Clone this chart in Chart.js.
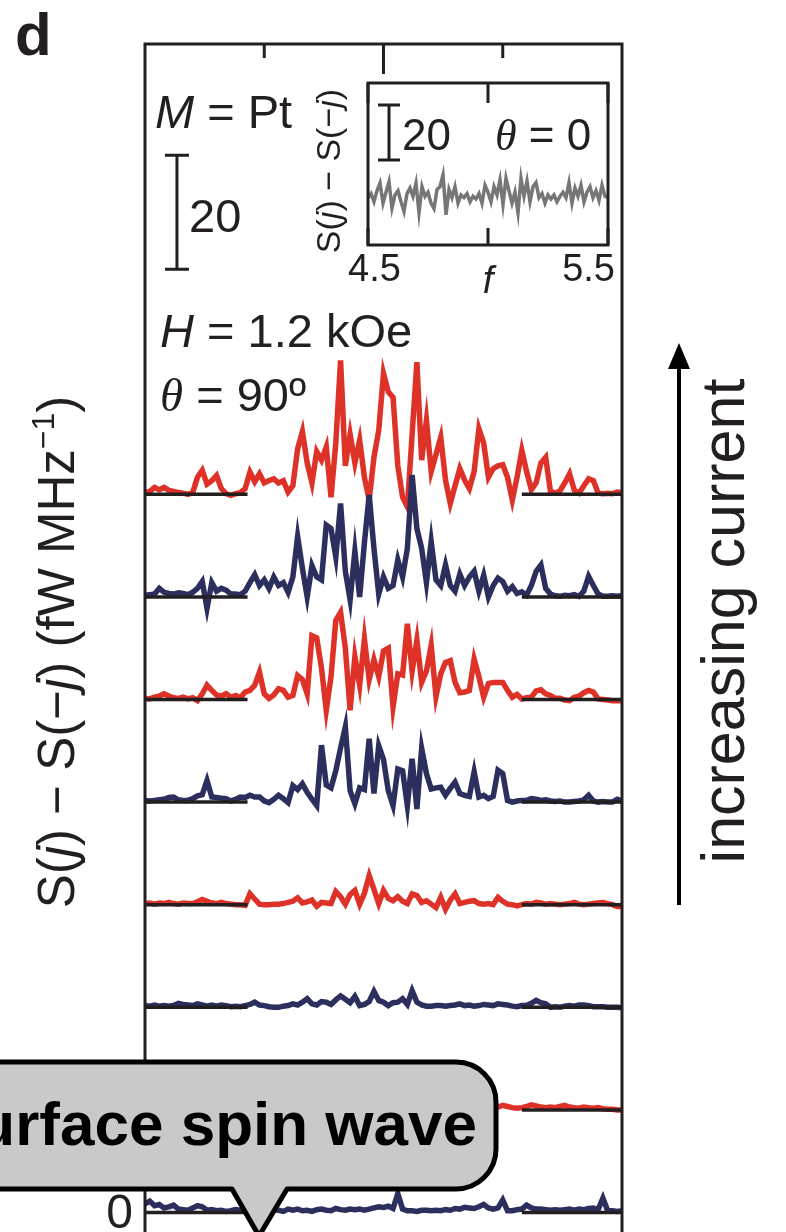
<!DOCTYPE html>
<html>
<head>
<meta charset="utf-8">
<script src="https://cdn.jsdelivr.net/npm/chart.js@4"></script>
<style>
  html, body { margin: 0; padding: 0; background: #fff; overflow: hidden; }
  #wrap { position: relative; width: 786px; height: 1232px; overflow: hidden; background: #fff; }
  #mainChart { position: absolute; left: 0; top: 0; }
  #insetChart { position: absolute; left: 300px; top: 60px; }
</style>
</head>
<body>
<div id="wrap">
  <canvas id="mainChart" width="786" height="1300"></canvas>
  <canvas id="insetChart" width="330" height="240"></canvas>
</div>
<script>
// frequency grid (GHz) for the main traces
const freq = [
  4.00, 4.02, 4.04, 4.06, 4.08, 4.10, 4.12, 4.14, 4.16, 4.18,
  4.20, 4.22, 4.24, 4.26, 4.28, 4.30, 4.32, 4.34, 4.36, 4.38,
  4.40, 4.42, 4.44, 4.46, 4.48, 4.50, 4.52, 4.54, 4.56, 4.58,
  4.60, 4.62, 4.64, 4.66, 4.68, 4.70, 4.72, 4.74, 4.76, 4.78,
  4.80, 4.82, 4.84, 4.86, 4.88, 4.90, 4.92, 4.94, 4.96, 4.98,
  5.00, 5.02, 5.04, 5.06, 5.08, 5.10, 5.12, 5.14, 5.16, 5.18,
  5.20, 5.22, 5.24, 5.26, 5.28, 5.30, 5.32, 5.34, 5.36, 5.38,
  5.40, 5.42, 5.44, 5.46, 5.48, 5.50, 5.52, 5.54, 5.56, 5.58,
  5.60, 5.62, 5.64, 5.66, 5.68, 5.70, 5.72, 5.74, 5.76, 5.78,
  5.80, 5.82, 5.84, 5.86, 5.88, 5.90, 5.92, 5.94, 5.96, 5.98,
  6.00
];

// S(j) - S(-j), top trace (highest current) first
const trace1 = [
  0.3, 0.5, 1.2, 0.8, 1.2, 0.7, 0.5, 0.3, 0.2, 0.0,
  0.3, 3.0, 4.2, 1.8, 2.4, 3.3, 1.0, 0.1, -0.2, 0.1,
  0.3, 1.0, 3.9, 2.2, 3.6, 2.0, 2.4, 2.7, 2.0, 2.4,
  0.4, 1.5, 8.0, 11.0, 5.5, 2.0, 7.5, 6.0, 8.3, -0.5,
  9.0, 23.5, 5.0, 10.5, 5.5, 9.5, 3.0, -1.0, 6.5, 11.2,
  21.2, 18.0, 17.0, 5.0, -0.5, -2.2, 10.5, 23.2, 6.0, 13.0,
  4.0, 7.0, 10.0, 2.5, -1.6, 1.5, 4.5, 2.5, 1.0, 4.0,
  11.5, 9.0, 3.0, 4.5, 5.0, 5.2, 3.0, -1.0, 3.0, 7.7,
  4.0, 0.8, 2.0, 5.5, 6.5, 0.5, 0.2, 0.6, 2.0, 3.6,
  0.7, 0.2, 1.5, 2.7, 2.4, 0.2, 0.1, 0.2, 0.1, 0.4,
  0.3
];
const trace2 = [
  0.3, 0.4, 0.5, 1.5, 0.8, 0.6, 0.5, 0.7, 0.6, 0.4,
  0.8, 1.5, 2.7, -2.0, 2.5, 1.0, 1.5, 1.2, 0.5, 0.5,
  0.4, 1.0, 2.5, 3.9, 2.0, 3.0, 1.5, 3.5, 2.0, 2.5,
  0.8, 3.5, 10.6, 5.0, 0.0, 5.5, 3.5, 3.0, 12.6, 12.0,
  7.0, 16.4, 4.5, -0.5, 8.0, 0.0, 9.5, 17.9, 8.5, 0.5,
  3.5, 1.5, 2.0, 6.5, 3.5, 8.5, 21.4, 12.0, 8.5, 2.5,
  9.7, 3.0, 2.0, 5.6, 2.0, 1.0, 4.0, 2.0, 3.5, 4.5,
  1.0, 3.8, 0.0, 2.0, 3.3, 2.7, 1.0, 1.8, 0.6, 0.9,
  0.3, 2.0, 4.5, 5.6, 1.5, 0.5, 0.2, 0.1, 0.3, 0.2,
  0.4, 0.1, 1.0, 3.6, 2.0, 0.5, 0.1, 0.1, 0.2, 0.1,
  0.2
];
const trace3 = [
  0.2, 0.1, 0.4, 0.6, 1.0, 0.6, 0.3, 0.2, 0.4, 0.1,
  0.3, -0.2, 1.0, 2.5, 1.6, 0.8, 0.6, 1.0, 0.4, 0.7,
  0.3, 1.3, 1.6, 2.5, 4.8, 1.0, 0.2, 0.8, 1.9, 1.6,
  0.4, 0.7, 4.2, 3.5, 1.0, 11.2, 10.8, 5.5, -1.9, 4.0,
  13.9, 15.3, 9.0, -1.9, 7.5, 2.5, 10.6, 3.5, 7.0, 4.0,
  8.5, 9.0, -1.3, 4.5, 4.3, 13.3, 5.0, 10.4, 3.0, 5.0,
  9.5, 0.5, 4.5, 6.5, 6.8, 3.0, 1.2, 1.3, 1.6, 7.1,
  4.0, 0.4, 2.8, 3.0, 3.0, 3.0, 1.6, 0.4, 0.9, 0.1,
  0.3, 0.4, 1.5, 1.7, 1.0, 0.7, 0.2, 0.2, -0.1, -0.2,
  0.4, 0.6, 1.2, 1.6, 1.3, 0.1, 0.0, -0.1, -0.2, -0.2,
  -0.2
];
const trace4 = [
  0.3, 0.2, 0.3, 0.4, 0.5, 0.8, 0.9, 0.4, 0.3, 0.3,
  0.6, 1.1, 1.3, 3.8, 0.9, 0.8, 0.7, 0.6, 0.2, 0.5,
  0.9, 0.8, 1.2, 0.9, 0.9, 0.2, -0.1, 0.5, 1.2, 0.6,
  -0.1, 2.9, 2.2, 3.2, 1.7, 0.5, -0.6, 10.0, 3.0, 2.5,
  5.5, 9.5, 13.2, 2.0, -0.3, 2.5, 2.2, 11.1, 1.5, 9.9,
  7.5, 2.0, -0.6, 5.8, 5.5, -0.6, 7.6, -1.2, 9.4, 5.0,
  2.3, 2.5, 2.6, 1.2, 2.4, 3.5, 1.5, 1.2, 1.0, 5.3,
  0.9, 1.2, 0.6, 1.0, 5.6, 5.0, 0.3, 0.0, 0.2, 0.3,
  0.3, 0.6, 0.5, 0.3, 0.4, 0.2, 0.1, 0.2, 0.0, 0.0,
  0.1, 0.2, 0.4, 1.2, 0.2, 0.0, 0.1, 0.0, 0.0, 0.5,
  0.2
];
const trace5 = [
  0.2, 0.3, 0.1, 0.3, 0.2, 0.4, 0.2, 0.1, 0.3, 0.2,
  0.2, 0.5, 0.9, 0.6, 0.3, 0.2, 0.4, 0.2, 0.1, 0.0,
  0.0, -0.1, 1.9, 1.0, 0.1, 0.0, 0.0, 0.1, 0.1, 0.2,
  0.4, 0.6, 1.2, 0.3, 0.5, 0.8, -0.3, 0.4, 0.3, 0.2,
  2.3, 1.4, 0.1, 1.8, 2.5, 0.1, 2.0, 5.1, 2.7, 0.2,
  2.5, 1.1, 0.7, 1.4, 0.6, 0.2, 1.9, 1.6, 0.4, 0.7,
  0.1, -0.5, 1.3, -0.8, 0.8, 1.9, 0.2, 0.4, 0.6, 0.7,
  0.2, 0.1, 0.2, 0.0, 1.3, 0.6, 0.1, 0.0, -0.2, 0.0,
  0.2, 0.1, 0.4, 0.3, 0.1, 0.2, 0.1, 0.0, 0.1, 0.2,
  0.4, 0.1, 0.0, 0.1, 0.2, 0.3, 0.4, 0.2, 0.0, -0.3,
  -0.3
];
const trace6 = [
  0.3, 0.2, 0.4, 0.2, 0.3, 0.2, 0.3, 0.7, 0.5, 0.4,
  0.3, 0.6, 0.4, 0.2, 0.4, 0.2, 0.4, 0.3, 0.1, 0.2,
  0.1, 0.3, 0.5, 0.9, 0.4, 0.3, 0.1, 0.0, 0.0, 0.2,
  0.3, 0.6, 0.4, 0.9, 1.5, 0.6, 0.4, 1.0, 0.9, 0.5,
  1.3, 2.0, 1.4, 0.8, 1.9, 0.3, 0.5, 1.0, 2.8, 1.2,
  0.9, 0.3, 0.8, 0.9, 1.5, 0.5, 2.9, 0.9, 0.4, 0.2,
  0.2, 0.3, 0.3, 0.2, 0.3, 0.4, 0.6, 0.3, 0.4, 0.2,
  0.3, 0.5, 0.4, 0.3, 0.6, 0.5, 0.4, 0.2, 0.1, 0.3,
  0.3, 0.7, 1.2, 0.8, 0.6, 0.0, 0.1, 0.0, 0.2, 0.3,
  0.2, 0.4, 0.4, 0.3, 0.1, 0.1, 0.1, 0.0, 0.0, 0.0,
  -0.1
];
const trace7 = [
  0.3, 0.2, 0.4, 0.3, 0.2, 0.3, 0.4, 0.2, 0.3, 0.2,
  0.3, 0.4, 0.3, 0.2, 0.3, 0.2, 0.4, 0.3, 0.2, 0.3,
  0.2, 0.4, 0.5, 0.3, 0.2, 0.3, 0.4, 0.3, 0.2, 0.3,
  0.4, 0.5, 0.3, 0.6, 0.4, 0.5, 0.3, 0.6, 0.4, 0.7,
  0.5, 0.8, 0.6, 0.5, 0.9, 0.4, 0.6, 1.0, 0.7, 0.5,
  0.6, 0.8, 0.5, 0.4, 0.6, 0.9, 0.5, 0.4, 0.3, 0.5,
  0.4, 0.3, 0.5, 0.4, 0.3, 0.4, 0.5, 0.3, 0.4, 0.3,
  0.4, 0.5, 0.4, 0.6, 0.5, 0.8, 0.6, 0.4, 0.3, 0.4,
  0.6, 0.9, 0.7, 0.5, 0.4, 0.5, 0.4, 0.6, 0.8, 0.5,
  0.4, 0.3, 0.5, 0.4, 0.3, 0.4, 0.2, 0.1, 0.1, 0.0,
  0.0
];
const trace8 = [
  1.5, 2.0, 1.2, 1.4, 0.8, 1.0, 1.3, 0.6, 0.5, 0.4,
  0.8, 1.2, 1.0, 0.4, 0.5, 0.3, 0.4, 0.2, 0.3, 0.5,
  0.4, 0.3, 0.2, 0.4, 0.3, 0.3, 0.2, 0.5, 0.4, 0.2,
  0.6, 0.4, 0.6, 0.3, 0.4, 0.2, 0.5, 0.6, 0.4, 0.3,
  0.7, 0.5, 0.4, 0.6, 0.5, 0.6, 0.4, 0.6, 0.8, 1.0,
  0.9, 1.1, 0.7, 3.3, 0.6, 0.3, 0.3, 0.2, 0.4, 0.4,
  0.3, 0.4, 0.3, 0.5, 0.4, 0.7, 0.6, 0.9, 0.8, 0.7,
  1.0, 1.4, 0.8, 0.6, 0.8, 2.2, 0.3, 0.3, 0.5, 0.6,
  1.3, 0.8, 0.6, 0.6, 0.5, 0.4, 0.5, 0.4, 0.5, 0.6,
  0.4, 0.6, 0.5, 0.7, 0.8, 0.5, 2.5, 0.3, 0.3, 0.2,
  0.3
];

// vertical offset of each trace (same units), top to bottom
const offsets = [126, 108, 90, 72, 54, 36, 18, 0];
// frequency windows where the zero reference is drawn
const refWindows = [[4.00, 4.43], [5.58, 6.00]];
const mainTicks = [4.5, 5.0, 5.5];
const scaleBarLength = 20;

// inset: theta = 0
const insetFreq = [
  4.5, 4.5125, 4.525, 4.5375, 4.55, 4.5625, 4.575, 4.5875, 4.6, 4.6125,
  4.625, 4.6375, 4.65, 4.6625, 4.675, 4.6875, 4.7, 4.7125, 4.725, 4.7375,
  4.75, 4.7625, 4.775, 4.7875, 4.8, 4.8125, 4.825, 4.8375, 4.85, 4.8625,
  4.875, 4.8875, 4.9, 4.9125, 4.925, 4.9375, 4.95, 4.9625, 4.975, 4.9875,
  5.0, 5.0125, 5.025, 5.0375, 5.05, 5.0625, 5.075, 5.0875, 5.1, 5.1125,
  5.125, 5.1375, 5.15, 5.1625, 5.175, 5.1875, 5.2, 5.2125, 5.225, 5.2375,
  5.25, 5.2625, 5.275, 5.2875, 5.3, 5.3125, 5.325, 5.3375, 5.35, 5.3625,
  5.375, 5.3875, 5.4, 5.4125, 5.425, 5.4375, 5.45, 5.4625, 5.475, 5.4875,
  5.5
];
const insetValues = [
  0.5, 2.0, -1.0, 3.0, 5.8, -1.5, 2.5, 6.3, -3.3, 1.5,
  3.0, -1.0, -4.5, 2.0, 4.0, 1.0, 5.8, -5.0, 4.5, 1.0,
  2.5, -1.5, -3.5, 3.5, 4.5, 8.8, -5.7, 3.5, 0.5, 4.5,
  -1.5, 1.5, 0.5, 2.0, -1.0, 1.0, 0.0, 2.0, -1.5, 5.0,
  2.5, -1.0, 4.5, 1.5, 7.0, -2.0, 7.6, 3.0, -1.5, 2.5,
  -5.0, 7.5, 1.0, 6.5, -1.0, 4.5, 6.0, 0.5, 2.0, -1.5,
  1.5, 0.0, 1.5, -1.0, 1.0, 2.5, 0.5, 6.0, -1.5, 4.0,
  1.0, 5.0, -1.0, 2.5, 4.5, 0.5, 3.0, -0.5, 5.0, 1.0,
  0.5
];
const insetTicks = [4.5, 5.0, 5.5];
const insetTickLabels = ['4.5', '', '5.5'];

const INK = '#231f20';
const RED = '#de3229';
const NAVY = '#2c2f5e';
const SANS = '"Liberation Sans", Arial, Helvetica, sans-serif';
const SERIF = '"Liberation Serif", "Times New Roman", serif';

function runFont(r, size) {
  const s = r.sup ? Math.round(size * 0.62) : size;
  return (r.italic ? 'italic ' : '') + (r.bold ? 'bold ' : '') + s + 'px ' + (r.serif ? SERIF : SANS);
}

// draws a line of mixed text runs (italic, serif, superscript)
function drawRuns(ctx, runs, x, y, size, align) {
  ctx.save();
  let total = 0;
  runs.forEach(r => { ctx.font = runFont(r, size); total += ctx.measureText(r.t).width; });
  let cx = align === 'center' ? x - total / 2 : (align === 'right' ? x - total : x);
  ctx.textAlign = 'left';
  ctx.textBaseline = 'alphabetic';
  ctx.fillStyle = INK;
  runs.forEach(r => {
    ctx.font = runFont(r, size);
    ctx.fillText(r.t, cx, r.sup ? y - size * 0.4 : y);
    cx += ctx.measureText(r.t).width;
  });
  ctx.restore();
}

function drawRotated(ctx, runs, x, y, size) {
  ctx.save();
  ctx.translate(x, y);
  ctx.rotate(-Math.PI / 2);
  drawRuns(ctx, runs, 0, 0, size, 'center');
  ctx.restore();
}

function drawScaleBar(ctx, px, yTop, yBottom, halfCap) {
  ctx.beginPath();
  ctx.moveTo(px, yTop); ctx.lineTo(px, yBottom);
  ctx.moveTo(px - halfCap, yTop); ctx.lineTo(px + halfCap, yTop);
  ctx.moveTo(px - halfCap, yBottom); ctx.lineTo(px + halfCap, yBottom);
  ctx.stroke();
}

// ---------- main chart ----------
const pxPerUnit = 5.7;
const yMax = 205;
const yMin = yMax - (1300 - 44) / pxPerUnit;

const datasets = [];
[trace1, trace2, trace3, trace4, trace5, trace6, trace7, trace8].forEach((vals, i) => {
  datasets.push({
    label: 'trace ' + (i + 1),
    data: vals.map((v, k) => ({ x: freq[k], y: v + offsets[i] })),
    borderColor: i % 2 === 0 ? RED : NAVY,
    borderWidth: 5.5,
    borderJoinStyle: 'miter',
    order: 20 - i,
  });
  refWindows.forEach(w => {
    datasets.push({
      label: 'zero ' + (i + 1),
      data: [{ x: w[0], y: offsets[i] }, { x: w[1], y: offsets[i] }],
      borderColor: INK,
      borderWidth: 3.5,
      order: 0,
    });
  });
});

const mainDecor = {
  id: 'mainDecor',
  afterDraw(chart) {
    const ctx = chart.ctx, a = chart.chartArea;
    const xs = chart.scales.x, ys = chart.scales.y;
    ctx.save();
    ctx.strokeStyle = INK;
    ctx.lineWidth = 3;
    ctx.lineCap = 'butt';
    ctx.beginPath();
    ctx.moveTo(a.left, a.bottom); ctx.lineTo(a.left, a.top);
    ctx.lineTo(a.right, a.top); ctx.lineTo(a.right, a.bottom);
    ctx.stroke();

    // inward ticks on top axis
    ctx.beginPath();
    mainTicks.forEach(t => {
      const px = xs.getPixelForValue(t);
      ctx.moveTo(px, a.top);
      ctx.lineTo(px, a.top + (t === 5.0 ? 30 : 14));
    });
    ctx.stroke();

    // scale bar
    drawScaleBar(ctx, xs.getPixelForValue(4.134), ys.getPixelForValue(165.5 + scaleBarLength),
      ys.getPixelForValue(165.5), 12);
    ctx.restore();

    drawRuns(ctx, [{ t: 'd', bold: true }], 15, 55, 60, 'left');
    drawRuns(ctx, [{ t: 'M', italic: true }, { t: ' = Pt' }], 155, 128, 47, 'left');
    drawRuns(ctx, [{ t: String(scaleBarLength) }], 189, 232, 47, 'left');
    drawRuns(ctx, [{ t: 'H', italic: true }, { t: ' = 1.2 kOe' }], 160, 347, 47, 'left');
    drawRuns(ctx, [{ t: 'θ', italic: true, serif: true }, { t: ' = 90º' }], 160, 411, 47, 'left');

    // y tick label for the bottom trace
    drawRuns(ctx, [{ t: '0' }], 133, ys.getPixelForValue(0) + 15, 48, 'right');

    // y-axis title
    drawRotated(ctx, [
      { t: 'S(' }, { t: 'j', italic: true }, { t: ') − S(−' }, { t: 'j', italic: true },
      { t: ') (fW MHz' }, { t: '−1', sup: true }, { t: ')' }
    ], 74, 652, 51);

    // increasing current arrow
    ctx.save();
    ctx.strokeStyle = '#000';
    ctx.fillStyle = '#000';
    ctx.lineWidth = 4;
    ctx.beginPath();
    ctx.moveTo(679, 905); ctx.lineTo(679, 362);
    ctx.stroke();
    ctx.beginPath();
    ctx.moveTo(679, 343); ctx.lineTo(668, 369); ctx.lineTo(690, 369); ctx.closePath();
    ctx.fill();
    ctx.restore();
    drawRotated(ctx, [{ t: 'increasing current' }], 744, 621, 61);

    // callout box
    ctx.save();
    const L = -60, R = 496, T = 1062, B = 1189, rad = 40;
    ctx.beginPath();
    ctx.moveTo(L, T);
    ctx.lineTo(R - rad, T);
    ctx.arcTo(R, T, R, T + rad, rad);
    ctx.lineTo(R, B - rad);
    ctx.arcTo(R, B, R - rad, B, rad);
    ctx.lineTo(287, B);
    ctx.lineTo(259, 1236);
    ctx.lineTo(232, B);
    ctx.lineTo(L, B);
    ctx.closePath();
    ctx.fillStyle = '#c9c9c9';
    ctx.fill();
    ctx.lineWidth = 5;
    ctx.lineJoin = 'round';
    ctx.strokeStyle = '#000';
    ctx.stroke();
    ctx.restore();
    ctx.save();
    ctx.font = 'bold 62px ' + SANS;
    ctx.fillStyle = '#000';
    ctx.textAlign = 'right';
    ctx.textBaseline = 'alphabetic';
    ctx.fillText('surface spin wave', 477, 1145);
    ctx.restore();
  }
};

new Chart(document.getElementById('mainChart').getContext('2d'), {
  type: 'line',
  data: { datasets: datasets },
  options: {
    responsive: false,
    animation: false,
    devicePixelRatio: 1,
    events: [],
    layout: { padding: { left: 145, top: 44, right: 164, bottom: 0 } },
    elements: { point: { radius: 0 }, line: { tension: 0 } },
    plugins: { legend: { display: false }, tooltip: { enabled: false } },
    scales: {
      x: { type: 'linear', display: false, min: 4.0, max: 6.0 },
      y: { type: 'linear', display: false, min: yMin, max: yMax }
    }
  },
  plugins: [mainDecor]
});

// ---------- inset ----------
const insetDecor = {
  id: 'insetDecor',
  afterDraw(chart) {
    const ctx = chart.ctx, a = chart.chartArea;
    const xs = chart.scales.x, ys = chart.scales.y;
    ctx.save();
    ctx.strokeStyle = INK;
    ctx.lineWidth = 3;
    ctx.strokeRect(a.left, a.top, a.right - a.left, a.bottom - a.top);
    ctx.beginPath();
    insetTicks.forEach(t => {
      const px = xs.getPixelForValue(t);
      ctx.moveTo(px, a.top); ctx.lineTo(px, a.top + 20);
      ctx.moveTo(px, a.bottom); ctx.lineTo(px, a.bottom - 17);
    });
    ctx.stroke();
    drawScaleBar(ctx, xs.getPixelForValue(4.5875), ys.getPixelForValue(14.2 + scaleBarLength),
      ys.getPixelForValue(14.2), 11);
    ctx.restore();

    insetTickLabels.forEach((lab, i) => {
      if (!lab) return;
      const px = xs.getPixelForValue(insetTicks[i]);
      if (i === 0) drawRuns(ctx, [{ t: lab }], px - 20, a.bottom + 36, 38, 'left');
      else drawRuns(ctx, [{ t: lab }], px + 7, a.bottom + 36, 38, 'right');
    });
    drawRuns(ctx, [{ t: 'f', italic: true }], xs.getPixelForValue(5.0), a.bottom + 48, 38, 'center');
    drawRuns(ctx, [{ t: String(scaleBarLength) }], 102, 90, 44, 'left');
    drawRuns(ctx, [{ t: 'θ', italic: true, serif: true }, { t: ' = 0' }], 195, 90, 44, 'left');
    drawRotated(ctx, [
      { t: 'S(' }, { t: 'j', italic: true }, { t: ') − S(−' }, { t: 'j', italic: true }, { t: ')' }
    ], 40, 111, 34);
  }
};

new Chart(document.getElementById('insetChart').getContext('2d'), {
  type: 'line',
  data: {
    datasets: [{
      label: 'theta = 0',
      data: insetValues.map((v, k) => ({ x: insetFreq[k], y: v })),
      borderColor: '#767676',
      borderWidth: 3.5,
      borderJoinStyle: 'miter'
    }]
  },
  options: {
    responsive: false,
    animation: false,
    devicePixelRatio: 1,
    events: [],
    layout: { padding: { left: 68, top: 23, right: 22, bottom: 55 } },
    elements: { point: { radius: 0 }, line: { tension: 0 } },
    plugins: { legend: { display: false }, tooltip: { enabled: false } },
    scales: {
      x: { type: 'linear', display: false, min: 4.5, max: 5.5 },
      y: { type: 'linear', display: false, min: -16.7, max: 42.2 }
    }
  },
  plugins: [insetDecor]
});
</script>
</body>
</html>
